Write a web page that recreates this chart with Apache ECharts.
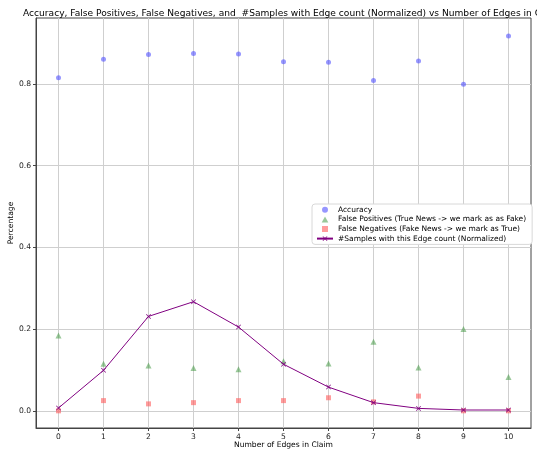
<!DOCTYPE html>
<html><head><meta charset="utf-8">
<script src="https://cdn.jsdelivr.net/npm/echarts@6/dist/echarts.min.js"></script>
<style>html,body{margin:0;padding:0;background:#fff}#c{width:537px;height:453px}</style>
</head><body><div id="c"></div>
<script>
const edges = [0,1,2,3,4,5,6,7,8,9,10];
const accuracy = [0.815,0.860,0.872,0.874,0.873,0.854,0.853,0.808,0.856,0.799,0.917];
const falsePositives = [0.184,0.115,0.111,0.105,0.102,0.121,0.116,0.169,0.106,0.200,0.083];
const falseNegatives = [0.000,0.025,0.017,0.020,0.025,0.025,0.032,0.022,0.036,0.000,0.000];
const samplesNorm = [0.007,0.099,0.231,0.267,0.205,0.114,0.058,0.020,0.006,0.002,0.002];
const yTicks = [0.0,0.2,0.4,0.6,0.8];
const xTicks = edges;

const pair = arr => edges.map((e,i)=>[e,arr[i]]);
const xSym = 'path://M0,1L1,0L5,4L9,0L10,1L6,5L10,9L9,10L5,6L1,10L0,9L4,5Z';
const triSym = 'path://M5,0L10,9L0,9Z';
const sqSym = 'path://M0,0L10,0L10,10L0,10Z';
const font = 'DejaVu Sans';

const chart = echarts.init(document.getElementById('c'));
chart.setOption({
  animation:false,
  textStyle:{fontFamily:font},
  title:{text:'Accuracy, False Positives, False Negatives, and  #Samples with Edge count (Normalized) vs Number of Edges in Claim',
    left:18, top:4, textStyle:{fontSize:9.1, fontWeight:'normal', color:'#000', fontFamily:font}},
  grid:{left:36,right:6,top:18,bottom:25,containLabel:false,outerBoundsMode:'none',show:true,borderColor:'#444',borderWidth:1,backgroundColor:'transparent'},
  xAxis:{type:'value',min:-0.5,max:10.5,
    name:'Number of Edges in Claim',nameLocation:'middle',nameGap:13,nameMoveOverlap:false,nameTextStyle:{fontSize:7.6,color:'#000'},
    axisLine:{show:true,onZero:false,lineStyle:{color:'#444'}},
    axisTick:{show:true,length:3,lineStyle:{color:'#444'},customValues:xTicks},
    axisLabel:{fontSize:7.6,color:'#222',margin:5,customValues:xTicks,formatter:v=>String(v)},
    splitLine:{show:true,lineStyle:{color:'#cfcfcf',width:1}}},
  yAxis:{type:'value',min:-0.042,max:0.961,
    name:'Percentage',nameLocation:'middle',nameGap:21,nameMoveOverlap:false,nameTextStyle:{fontSize:7.6,color:'#000'},
    axisLine:{show:true,onZero:false,lineStyle:{color:'#444'}},
    axisTick:{show:true,length:3,lineStyle:{color:'#444'},customValues:yTicks},
    axisLabel:{fontSize:7.6,color:'#222',margin:5,customValues:yTicks,formatter:v=>v.toFixed(1)},
    splitLine:{show:true,lineStyle:{color:'#cfcfcf',width:1}}},
  legend:{orient:'vertical',left:312,top:204,itemWidth:16,itemHeight:6,itemGap:0,symbolKeepAspect:true,
    padding:[1,6,1,4],backgroundColor:'#fff',borderColor:'#d8d8d8',borderWidth:1,borderRadius:3,
    textStyle:{fontSize:7.5,color:'#000',lineHeight:9.6},
    data:[
      {name:'Accuracy',icon:'circle'},
      {name:'False Positives (True News -> we mark as as Fake)',icon:triSym},
      {name:'False Negatives (Fake News -> we mark as True)',icon:sqSym},
      {name:'#Samples with this Edge count (Normalized)'}
    ]},
  series:[
    {name:'Accuracy',type:'scatter',symbol:'circle',symbolSize:5,data:pair(accuracy),
      itemStyle:{color:'rgba(80,80,255,0.75)'}},
    {name:'False Positives (True News -> we mark as as Fake)',type:'scatter',symbol:'triangle',symbolSize:6,data:pair(falsePositives),
      itemStyle:{color:'rgba(60,150,60,0.65)'}},
    {name:'False Negatives (Fake News -> we mark as True)',type:'scatter',symbol:'rect',symbolSize:5,data:pair(falseNegatives),
      itemStyle:{color:'rgba(255,90,90,0.75)'}},
    {name:'#Samples with this Edge count (Normalized)',type:'line',symbol:xSym,symbolSize:5,showSymbol:true,data:pair(samplesNorm),
      lineStyle:{color:'#800080',width:1},itemStyle:{color:'#800080'}}
  ]
});
</script></body></html>
